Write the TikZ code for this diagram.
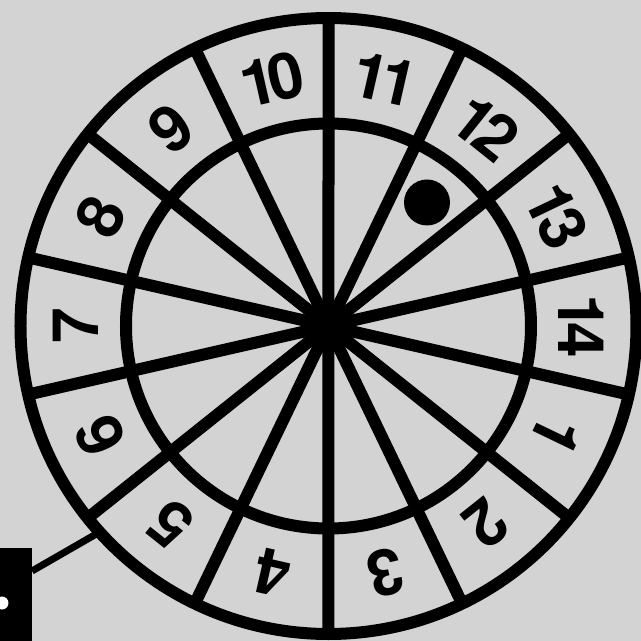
\documentclass[tikz,border=0pt]{standalone}
\usepackage{fontspec}
\newfontfamily\wheelfont[LetterSpace=-12]{TeX Gyre Heros}
\definecolor{board}{RGB}{211,211,211}
\begin{document}
\begin{tikzpicture}
[
    x=1pt, y=1pt,
    ring/.style={line width=12pt},
    spoke/.style={line width=12pt},
    number/.style={font=\wheelfont\bfseries\fontsize{64}{64}\selectfont, inner sep=0pt},
    feed/.style={line width=7pt}
]
    \useasboundingbox (-328.5,-315) rectangle (312.5,326);
    \clip (-328.5,-315) rectangle (312.5,326);
    \fill [board] (-328.5,-315) rectangle (312.5,326);

    \coordinate (hub) at (0,0);
    \foreach \k in {0,...,13}
        \draw [spoke] (hub) -- ++({12.857+25.714*\k}:308);
    \draw [ring] (hub) circle (308);
    \draw [ring] (hub) circle (202.5);

    \foreach \n [evaluate=\n as \a using (14-\n)*25.714] in {1,...,14}
        \node [number, rotate=\a-90] (n\n) at (\a:253) {\n};

    \node [circle, fill, minimum size=46pt, inner sep=0pt] (marker) at (51.43:158) {};

    \node [fill, minimum width=70pt, minimum height=140pt, anchor=north east, inner sep=0pt] (panel) at (-296.5,-222) {};
    \node [circle, fill=white, minimum size=13pt, inner sep=0pt] (led) at (-326.5,-277) {};
    \coordinate (rim) at (222:308);
    \draw [feed] ([yshift=-23pt]panel.north east) -- (rim);
\end{tikzpicture}
\end{document}
